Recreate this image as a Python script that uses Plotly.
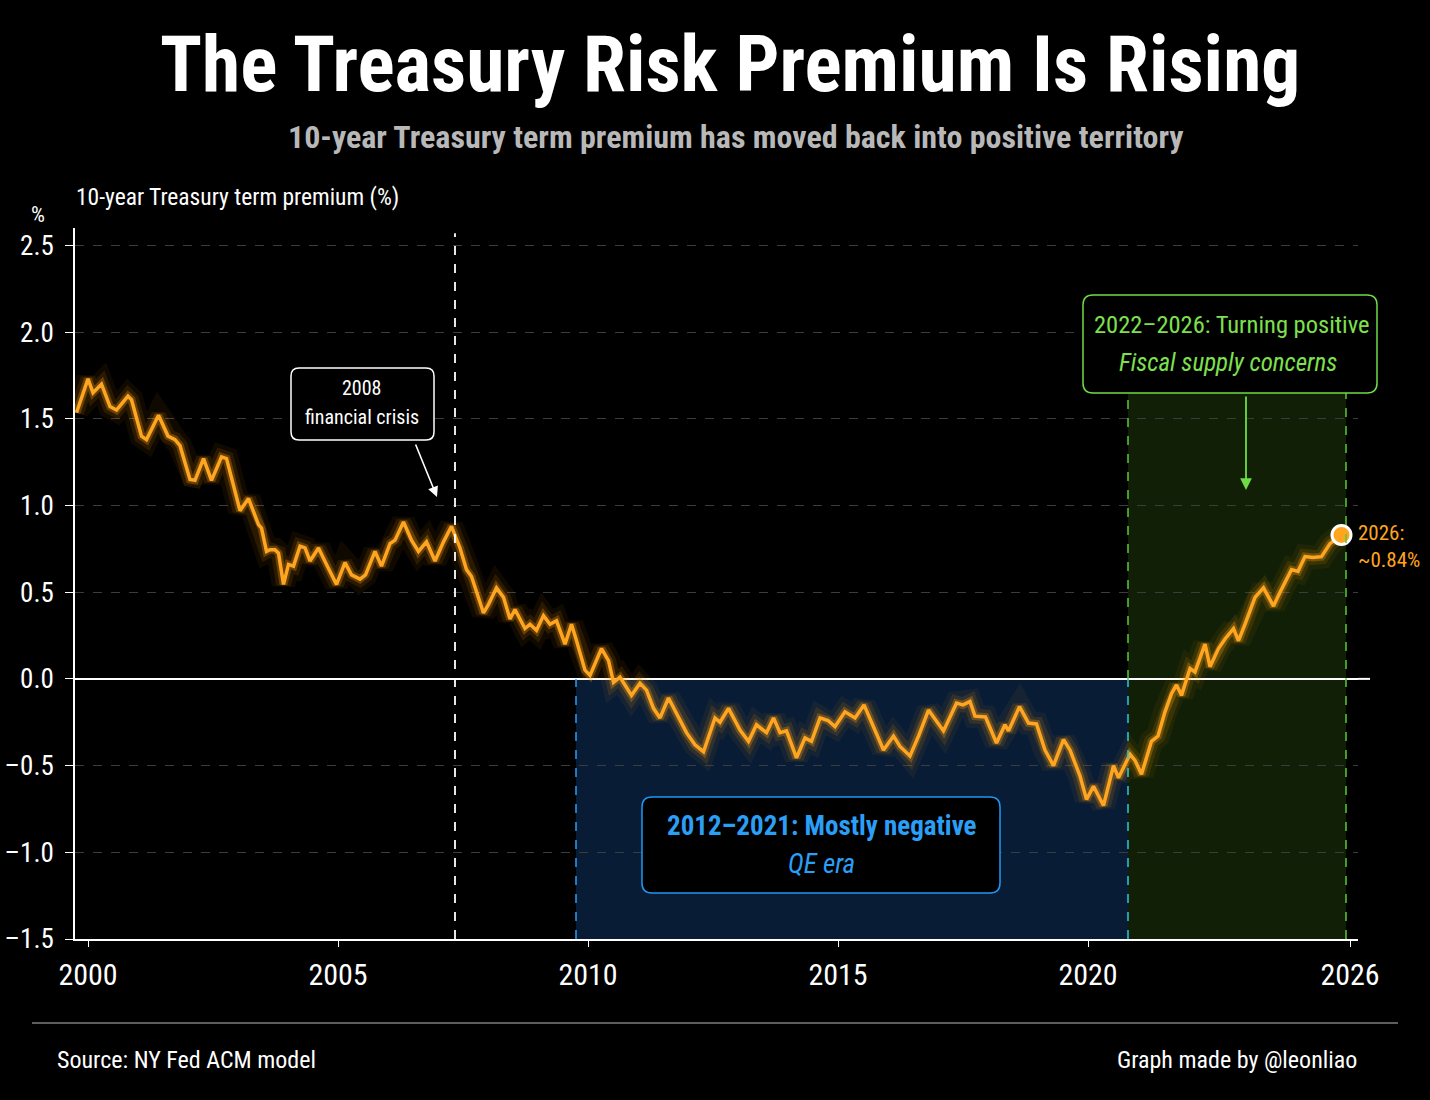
import plotly.graph_objects as go

# ---------------- data ----------------
years = [1999.77, 1999.84, 2000.00, 2000.10, 2000.27, 2000.44, 2000.57, 2000.80, 2000.87,
         2001.07, 2001.17, 2001.41, 2001.60, 2001.74, 2001.84, 2002.04, 2002.14, 2002.31,
         2002.47, 2002.67, 2002.77, 2002.91, 2003.04, 2003.21, 2003.41, 2003.47, 2003.57,
         2003.64, 2003.74, 2003.81, 2003.91, 2004.01, 2004.11, 2004.24, 2004.34, 2004.44,
         2004.61, 2004.77, 2004.97, 2005.14, 2005.27, 2005.44, 2005.55, 2005.74, 2005.87,
         2006.04, 2006.14, 2006.31, 2006.47, 2006.61, 2006.77, 2006.94, 2007.11, 2007.27,
         2007.44, 2007.57, 2007.67, 2007.91, 2008.01, 2008.17, 2008.31, 2008.44, 2008.54,
         2008.74, 2008.84, 2008.97, 2009.11, 2009.24, 2009.37, 2009.54, 2009.67, 2009.77,
         2009.94, 2010.04, 2010.27, 2010.41, 2010.51, 2010.64, 2010.87, 2011.04, 2011.17,
         2011.31, 2011.44, 2011.61, 2011.77, 2011.97, 2012.14, 2012.31, 2012.54, 2012.64,
         2012.81, 2013.04, 2013.21, 2013.37, 2013.57, 2013.71, 2013.84, 2013.97, 2014.17,
         2014.34, 2014.47, 2014.64, 2014.80, 2014.94, 2015.14, 2015.34, 2015.52, 2015.71,
         2015.91, 2016.11, 2016.24, 2016.44, 2016.61, 2016.81, 2016.91, 2017.11, 2017.37,
         2017.50, 2017.64, 2017.74, 2017.95, 2018.17, 2018.34, 2018.41, 2018.63, 2018.81,
         2018.97, 2019.14, 2019.31, 2019.51, 2019.64, 2019.84, 2019.97, 2020.11, 2020.31,
         2020.51, 2020.61, 2020.84, 2020.94, 2021.07, 2021.27, 2021.40, 2021.54, 2021.67,
         2021.77, 2021.87, 2022.04, 2022.14, 2022.34, 2022.44, 2022.61, 2022.74, 2022.91,
         2023.01, 2023.14, 2023.34, 2023.51, 2023.71, 2023.84, 2024.07, 2024.20, 2024.34,
         2024.50, 2024.67, 2024.84, 2025.07]
term_premium = [1.535, 1.59, 1.73, 1.65, 1.70, 1.57, 1.55, 1.63, 1.61,
                1.40, 1.38, 1.52, 1.40, 1.38, 1.345, 1.15, 1.145, 1.27,
                1.145, 1.28, 1.27, 1.115, 0.97, 1.04, 0.89, 0.87, 0.735,
                0.745, 0.745, 0.725, 0.545, 0.66, 0.65, 0.765, 0.755, 0.68,
                0.755, 0.66, 0.545, 0.67, 0.60, 0.575, 0.60, 0.735, 0.65,
                0.78, 0.80, 0.905, 0.80, 0.735, 0.79, 0.68, 0.79, 0.88,
                0.755, 0.63, 0.59, 0.38, 0.43, 0.525, 0.47, 0.345, 0.40,
                0.29, 0.315, 0.28, 0.365, 0.315, 0.335, 0.20, 0.315, 0.22,
                0.05, 0.02, 0.175, 0.105, -0.02, 0.01, -0.095, -0.025, -0.065,
                -0.17, -0.225, -0.11, -0.20, -0.31, -0.38, -0.42, -0.225, -0.25,
                -0.17, -0.295, -0.36, -0.265, -0.31, -0.225, -0.31, -0.30, -0.455,
                -0.34, -0.36, -0.225, -0.24, -0.275, -0.19, -0.225, -0.15, -0.275,
                -0.41, -0.33, -0.39, -0.445, -0.33, -0.18, -0.22, -0.30, -0.14,
                -0.15, -0.13, -0.215, -0.22, -0.37, -0.265, -0.30, -0.16, -0.255,
                -0.26, -0.41, -0.50, -0.35, -0.41, -0.56, -0.695, -0.62, -0.73,
                -0.50, -0.57, -0.435, -0.47, -0.55, -0.36, -0.33, -0.19, -0.085,
                -0.035, -0.095, 0.06, 0.04, 0.20, 0.07, 0.175, 0.23, 0.29,
                0.22, 0.315, 0.47, 0.525, 0.42, 0.50, 0.63, 0.62, 0.705,
                0.70, 0.705, 0.78, 0.83]

tick_vals = [2000, 2005, 2010, 2015, 2020, 2025.24]
tick_text = ["2000", "2005", "2010", "2015", "2020", "2026"]
y_ticks = [-1.5, -1.0, -0.5, 0.0, 0.5, 1.0, 1.5, 2.0, 2.5]
y_tick_text = [f"{v:.1f}".replace("-", "–") for v in y_ticks]

crisis_x = 2007.34
qe_start, qe_end = 2009.76, 2020.80
pos_start, pos_end = 2020.80, 2025.16
last_label = "2026:<br>~0.84%"

# ---------------- styling ----------------
FONT = "'Roboto Condensed', 'Open Sans Condensed', 'DejaVu Sans Condensed', sans-serif"
ORANGE = "#FFA51F"
BLUE = "#2a9ff5"
GREEN = "#7ee04e"

W, H = 1430, 1100
PL, PR, PT, PB = 75, 1358, 228, 939


def px(x):
    return (x - PL) / (PR - PL)


def py(y):
    return (PB - y) / (PB - PT)


def rbox(x0, y0, x1, y1, r):
    rx = r / (PR - PL)
    ry = r / (PB - PT)
    X0, X1, Y0, Y1 = px(x0), px(x1), py(y0), py(y1)  # Y0 top, Y1 bottom
    return (f"M {X0+rx},{Y0} L {X1-rx},{Y0} Q {X1},{Y0} {X1},{Y0-ry} "
            f"L {X1},{Y1+ry} Q {X1},{Y1} {X1-rx},{Y1} L {X0+rx},{Y1} "
            f"Q {X0},{Y1} {X0},{Y1+ry} L {X0},{Y0-ry} Q {X0},{Y0} {X0+rx},{Y0} Z")


fig = go.Figure()

# glow layers
for w, c in [(24, "rgba(255,150,0,0.06)"), (15, "rgba(255,155,0,0.12)"),
             (8, "rgba(255,165,20,0.28)")]:
    fig.add_trace(go.Scatter(x=years, y=term_premium, mode="lines",
                             line=dict(color=c, width=w), hoverinfo="skip",
                             showlegend=False))
fig.add_trace(go.Scatter(x=years, y=term_premium, mode="lines",
                         line=dict(color=ORANGE, width=3.5), showlegend=False))
fig.add_trace(go.Scatter(x=[years[-1]], y=[term_premium[-1]], mode="markers",
                         marker=dict(color=ORANGE, size=19, line=dict(color="white", width=3)),
                         showlegend=False))

shapes = []
# shaded regions
shapes.append(dict(type="rect", xref="x", yref="y", x0=qe_start, x1=qe_end, y0=-1.5, y1=0,
                   fillcolor="#081c36", line=dict(width=0), layer="below"))
shapes.append(dict(type="rect", xref="x", yref="y", x0=pos_start, x1=pos_end, y0=-1.5, y1=1.648,
                   fillcolor="#121f07", line=dict(width=0), layer="below"))
# dashed boundaries
shapes.append(dict(type="line", xref="x", yref="y", x0=qe_start, x1=qe_start, y0=-1.5, y1=0,
                   line=dict(color="#2a9ff5", width=1.5, dash="dash")))
shapes.append(dict(type="line", xref="x", yref="y", x0=pos_start, x1=pos_start, y0=-1.5, y1=0,
                   line=dict(color="#30c8d8", width=1.5, dash="dash")))
shapes.append(dict(type="line", xref="x", yref="y", x0=pos_start, x1=pos_start, y0=0, y1=1.648,
                   line=dict(color="#5fc83a", width=1.5, dash="dash")))
shapes.append(dict(type="line", xref="x", yref="y", x0=pos_end, x1=pos_end, y0=-1.5, y1=1.648,
                   line=dict(color="#5fc83a", width=1.5, dash="dash")))
shapes.append(dict(type="line", xref="x", yref="y", x0=crisis_x, x1=crisis_x, y0=-1.5, y1=2.57,
                   line=dict(color="white", width=1.8, dash="dash")))
# zero line extension beyond the plot
shapes.append(dict(type="line", xref="paper", yref="y", x0=1.0, x1=px(1370), y0=0, y1=0,
                   line=dict(color="white", width=2)))
# boxes
shapes.append(dict(type="path", xref="paper", yref="paper", path=rbox(291, 368, 434, 440, 8),
                   fillcolor="black", line=dict(color="white", width=1.5), layer="above"))
shapes.append(dict(type="path", xref="paper", yref="paper", path=rbox(642, 797, 1000, 893, 10),
                   fillcolor="black", line=dict(color="#2196f3", width=1.5), layer="above"))
shapes.append(dict(type="path", xref="paper", yref="paper", path=rbox(1083, 295, 1377, 393, 10),
                   fillcolor="black", line=dict(color="#6fdc45", width=1.5), layer="above"))
# footer separator
shapes.append(dict(type="line", xref="paper", yref="paper", x0=px(32), x1=px(1398),
                   y0=py(1023), y1=py(1023), line=dict(color="#bbbbbb", width=1)))

ann = []


def text(x, y, t, size, color, xanchor="center", bold=False, italic=False, weight=None):
    s = t
    if bold:
        s = f"<b>{s}</b>"
    if italic:
        s = f"<i>{s}</i>"
    f = dict(family=FONT, size=size, color=color)
    if weight:
        f["weight"] = weight
    ann.append(dict(xref="paper", yref="paper", x=px(x), y=py(y), text=s, showarrow=False,
                    xanchor=xanchor, yanchor="middle", font=f))


def arrow(tail, tip, color, width):
    ann.append(dict(xref="paper", yref="paper", x=px(tip[0]), y=py(tip[1]),
                    ax=tail[0] - tip[0], ay=tail[1] - tip[1], axref="pixel", ayref="pixel",
                    text="", showarrow=True, arrowhead=2, arrowsize=1.3,
                    arrowwidth=width, arrowcolor=color))


text(730, 64, "The Treasury Risk Premium Is Rising", 77.5, "white", bold=True)
text(736, 137, "10-year Treasury term premium has moved back into positive territory", 32,
     "#b8b8b8", bold=True)
text(74, 197, "10-year Treasury term premium (%)", 23.5, "white", xanchor="left")
text(38, 215, "%", 22, "white")
text(362, 388, "2008", 20, "white")
text(362, 417, "financial crisis", 20, "white")
text(822, 826, "2012–2021: Mostly negative", 27, BLUE, bold=True)
text(822, 864, "QE era", 27, BLUE, italic=True)
text(1231, 324, "2022–2026: Turning positive", 24.5, GREEN)
text(1228, 362, "Fiscal supply concerns", 25, GREEN, italic=True)
ann.append(dict(xref="paper", yref="paper", x=px(1356), y=py(546), text=last_label,
                showarrow=False, xanchor="left", yanchor="middle", align="left",
                font=dict(family=FONT, size=21, color=ORANGE)))
text(55, 1060, "Source: NY Fed ACM model", 24, "white", xanchor="left")
text(1359, 1060, "Graph made by @leonliao", 24, "white", xanchor="right")

arrow((415, 443), (437, 497), "white", 1.6)
arrow((1246, 395), (1246, 490), "#6fdc45", 1.8)

fig.update_layout(
    width=W, height=H, autosize=False,
    paper_bgcolor="black", plot_bgcolor="black",
    margin=dict(l=PL, r=W - PR, t=PT, b=H - PB, pad=0),
    shapes=shapes, annotations=ann, showlegend=False,
    font=dict(family=FONT, color="white"),
    xaxis=dict(range=[1999.74, 2025.4], showgrid=False, zeroline=False, automargin=False,
               showline=True, linecolor="white", linewidth=1.5,
               ticks="outside", ticklen=6, tickcolor="white", tickwidth=1,
               tickvals=tick_vals, ticktext=tick_text, ticklabelstandoff=2,
               tickfont=dict(family=FONT, size=30, color="white")),
    yaxis=dict(range=[-1.5, 2.6], tickvals=y_ticks, ticktext=y_tick_text, automargin=False,
               showgrid=True, gridcolor="#3c3c3c", griddash="dash", gridwidth=1,
               zeroline=True, zerolinecolor="white", zerolinewidth=2,
               showline=True, linecolor="white", linewidth=1.5,
               ticks="outside", ticklen=8, tickcolor="white", tickwidth=1,
               ticklabelstandoff=6,
               tickfont=dict(family=FONT, size=27, color="white")),
)

fig.write_html("out.html", config={"displayModeBar": False},
               post_script="document.body.style.margin='0';"
                           "document.body.style.background='black';")
